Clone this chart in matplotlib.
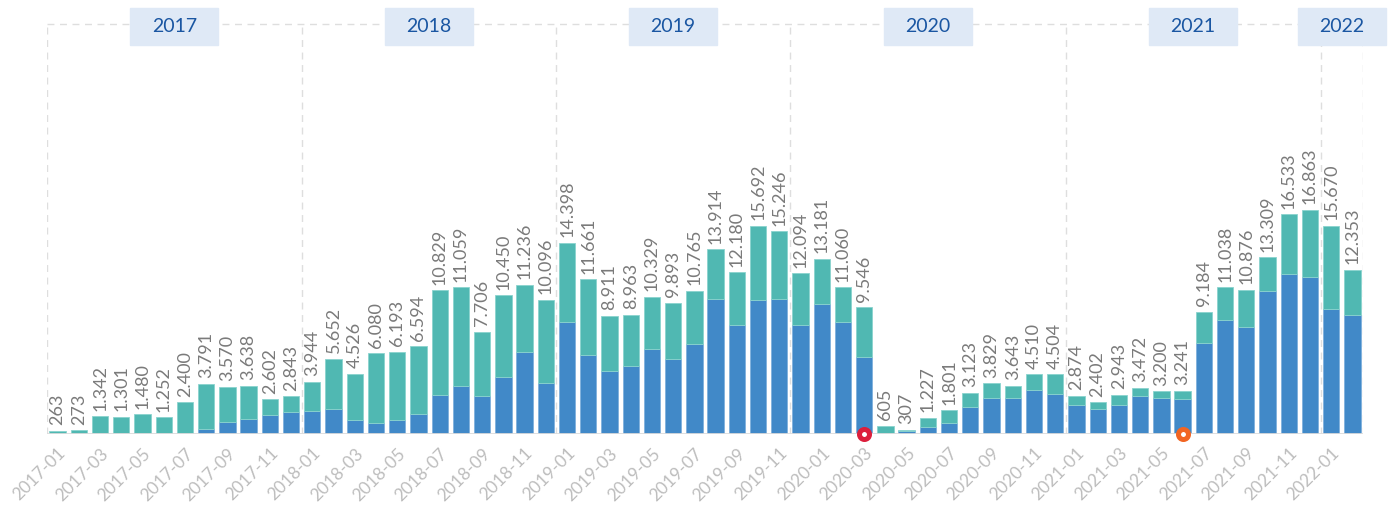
import matplotlib
matplotlib.use("Agg")
import matplotlib.pyplot as plt
from matplotlib.patches import Rectangle

months = []
for yr in range(2017, 2023):
    for mo in range(1, 13):
        months.append(f"{yr}-{mo:02d}")
months = months[:62]

totals = [263, 273, 1342, 1301, 1480, 1252, 2400, 3791, 3570, 3638, 2602, 2843,
          3944, 5652, 4526, 6080, 6193, 6594, 10829, 11059, 7706, 10450, 11236, 10096,
          14398, 11661, 8911, 8963, 10329, 9893, 10765, 13914, 12180, 15692, 15246, 12094,
          13181, 11060, 9546, 605, 307, 1227, 1801, 3123, 3829, 3643, 4510, 4504,
          2874, 2402, 2943, 3472, 3200, 3241, 9184, 11038, 10876, 13309, 16533, 16863,
          15670, 12353]
blue_part = [10, 10, 60, 60, 60, 50, 60, 350, 880, 1100, 1400, 1630,
             1700, 1860, 1050, 850, 1050, 1530, 2910, 3640, 2890, 4270, 6200, 3870,
             8410, 5970, 4770, 5100, 6430, 5670, 6750, 10130, 8180, 10060, 10130, 8180,
             9760, 8410, 5820, 50, 200, 550, 850, 2060, 2680, 2680, 3340, 3040,
             2180, 1880, 2180, 2890, 2680, 2610, 6820, 8610, 8080, 10760, 12070, 11790,
             9430, 8930]
teal_part = [t - b for t, b in zip(totals, blue_part)]

years = ["2017", "2018", "2019", "2020", "2021", "2022"]
year_bounds = [-0.5, 11.5, 23.5, 34.5, 47.5, 59.5, 61.5]
events = ["2020-03", "2021-06"]
event_colors = ["#dc1f3c", "#f26522"]

plt.rcParams['font.family'] = ['Lato', 'DejaVu Sans']

fig = plt.figure(figsize=(13.9, 5.11), dpi=100)
ax = fig.add_axes([47 / 1390, 1 - 434 / 511, 1316 / 1390, 410 / 511])

x = list(range(len(months)))
ax.bar(x, blue_part, width=0.77, color="#4189c8", edgecolor="#7fb0dc", linewidth=0.6)
ax.bar(x, teal_part, bottom=blue_part, width=0.77, color="#50b8b2",
       edgecolor="#8ad3ce", linewidth=0.6)

for i, t in enumerate(totals):
    ax.annotate(f"{t:,}".replace(",", "."), (i, t), xytext=(0, 4),
                textcoords="offset points", rotation=90, ha="center", va="bottom",
                fontsize=13, color="#7a7a7a")

ymax = 30860
ax.set_xlim(-0.5, 61.5)
ax.set_ylim(0, ymax)

# year areas with dashed borders
for b in year_bounds:
    ax.plot([b, b], [0, ymax], ls=(0, (5, 4)), color="#dedede", lw=1, zorder=0)
ax.plot([-0.5, 61.5], [ymax, ymax], ls=(0, (5, 4)), color="#dedede", lw=1,
        zorder=0, clip_on=False)

fig_w = 1316 / 1390
for k, yr in enumerate(years):
    c = (year_bounds[k] + year_bounds[k + 1]) / 2
    cx = 47 / 1390 + (c + 0.5) / 62 * fig_w
    bw, bh = 88 / 1390, 37 / 511
    fig.patches.append(Rectangle((cx - bw / 2, 1 - 45 / 511), bw, bh,
                                 transform=fig.transFigure, color="#dfe9f6", zorder=3))
    fig.text(cx, 1 - 26.5 / 511, yr, ha="center", va="center", fontsize=14,
             color="#1a56a2", zorder=4)

ax.axhline(0, color="#dcdcdc", lw=2)

for ev, col in zip(events, event_colors):
    i = months.index(ev)
    ax.plot([i], [0], marker="o", ms=7.2, mew=3.6, mfc="white", mec=col,
            clip_on=False, zorder=5)

ax.set_xticks(x[::2])
ax.set_xticklabels(months[::2], rotation=45, ha="right", rotation_mode="anchor",
                   fontsize=12.5, color="#bdbdbd")
ax.tick_params(axis="x", length=0, pad=8)
ax.set_yticks([])
for s in ax.spines.values():
    s.set_visible(False)

fig.savefig("out.png", dpi=100)
